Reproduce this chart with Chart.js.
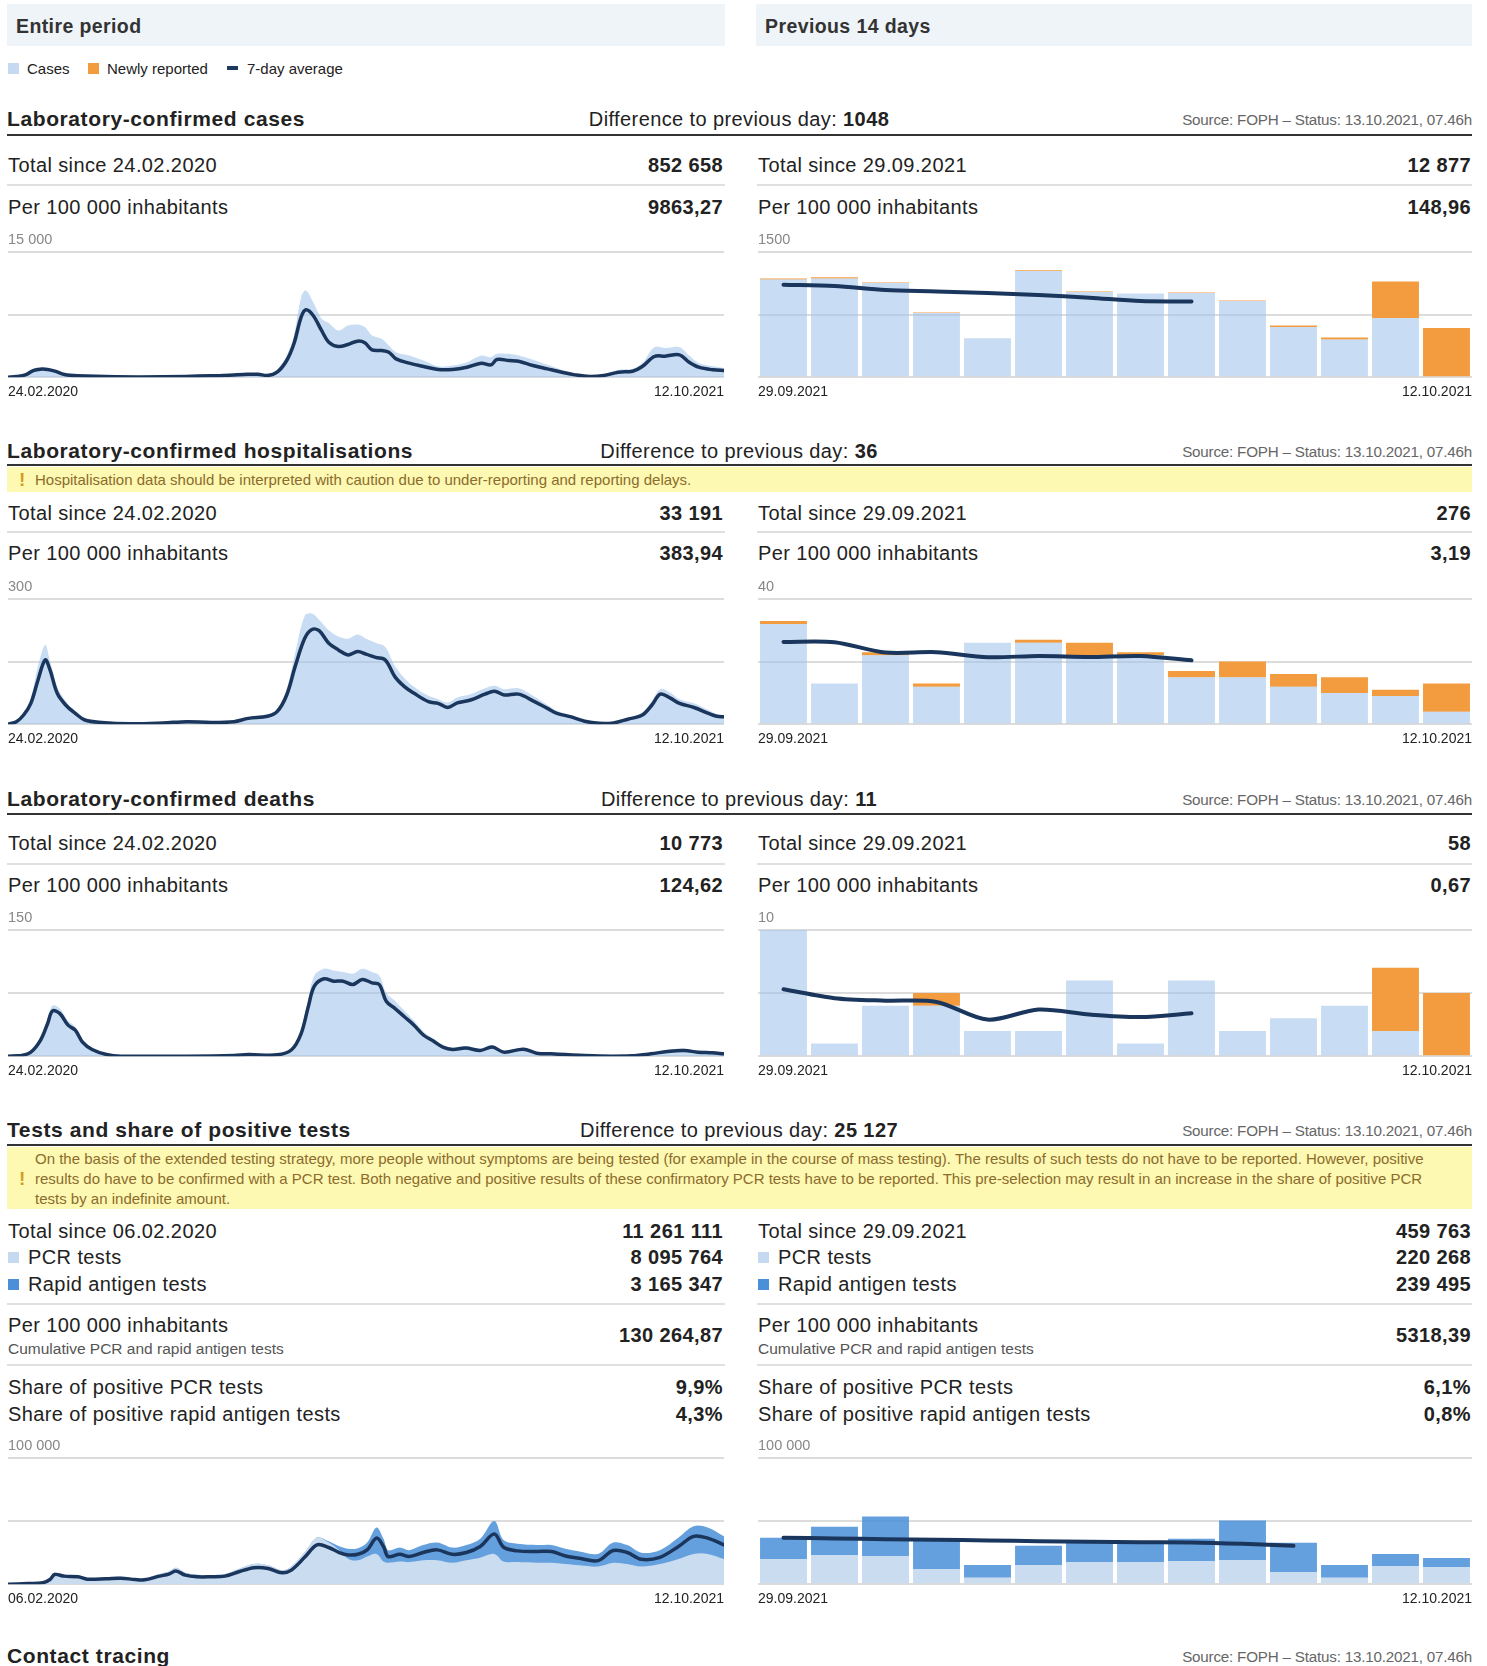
<!DOCTYPE html>
<html>
<head>
<meta charset="utf-8">
<script src="https://cdn.jsdelivr.net/npm/chart.js@4.4.0/dist/chart.umd.min.js"></script>
<style>
  body { margin: 0; background: #fff; font-family: "Liberation Sans", Arial, sans-serif; color: #222; }
  #page { position: relative; width: 1487px; height: 1666px; overflow: hidden; }
  .t { position: absolute; white-space: nowrap; line-height: 1; transform: translateY(-50%); font-size: 20px; letter-spacing: 0.4px; }
  .r { text-align: right; }
  .c { transform: translate(-50%, -50%); }
  .b { font-weight: bold; }
  .h { font-weight: bold; font-size: 21px; letter-spacing: 0.6px; color: #222; }
  .src { font-size: 15.2px; color: #666; letter-spacing: -0.2px; }
  .sub { font-size: 15.5px; color: #555; letter-spacing: 0; }
  .small { font-size: 15px; letter-spacing: 0; }
  .box { position: absolute; background: #eef4f8; }
  .rule { position: absolute; height: 2px; background: #333; left: 7px; width: 1465px; }
  .sep { position: absolute; height: 2px; background: #e0e0e0; }
  .warn { position: absolute; left: 7px; width: 1465px; background: #fdf8b2; }
  .warn .txt { position: absolute; left: 28px; font-size: 15px; color: #8b6c2c; line-height: 20px; white-space: nowrap; letter-spacing: 0; }
  .warn .ex { position: absolute; left: 12px; font-size: 19px; font-weight: bold; color: #d39c1e; }
  .sq { position: absolute; width: 11px; height: 11px; }
  .cw { position: absolute; }
</style>
</head>
<body>
<div id="page">
  <div class="box" style="left:7px;top:4px;width:718px;height:42px"></div>
  <div class="box" style="left:756px;top:4px;width:716px;height:42px"></div>
  <div class="t b" style="left:16px;top:27px;font-size:19.5px;color:#333">Entire period</div>
  <div class="t b" style="left:765px;top:27px;font-size:19.5px;color:#333">Previous 14 days</div>

  <div class="sq" style="left:8px;top:63px;background:#c5daf0"></div>
  <div class="t small" style="left:27px;top:68px">Cases</div>
  <div class="sq" style="left:88px;top:63px;background:#f39b3f"></div>
  <div class="t small" style="left:107px;top:68px">Newly reported</div>
  <div class="sq" style="left:227px;top:66px;width:11px;height:4px;background:#1d3a5f"></div>
  <div class="t small" style="left:247px;top:68px">7-day average</div>

  <!-- cases -->
  <div class="t h" style="left:7px;top:118px">Laboratory-confirmed cases</div>
  <div class="t c" style="left:739px;top:119px">Difference to previous day: <b>1048</b></div>
  <div class="t src r" style="right:15px;top:120px">Source: FOPH – Status: 13.10.2021, 07.46h</div>
  <div class="rule" style="top:134px"></div>
  <div class="t" style="left:8px;top:165px">Total since 24.02.2020</div>
  <div class="t b r" style="right:764px;top:165px">852 658</div>
  <div class="t" style="left:758px;top:165px">Total since 29.09.2021</div>
  <div class="t b r" style="right:16px;top:165px">12 877</div>
  <div class="sep" style="left:7px;width:718px;top:184px"></div>
  <div class="sep" style="left:757px;width:715px;top:184px"></div>
  <div class="t" style="left:8px;top:207px">Per 100 000 inhabitants</div>
  <div class="t b r" style="right:764px;top:207px">9863,27</div>
  <div class="t" style="left:758px;top:207px">Per 100 000 inhabitants</div>
  <div class="t b r" style="right:16px;top:207px">148,96</div>
  <div class="cw" style="left:8px;top:228px;width:716px;height:173px"><canvas id="casesAll"></canvas></div>
  <div class="cw" style="left:758px;top:228px;width:714px;height:173px"><canvas id="cases14"></canvas></div>

  <!-- hospitalisations -->
  <div class="t h" style="left:7px;top:450px">Laboratory-confirmed hospitalisations</div>
  <div class="t c" style="left:739px;top:451px">Difference to previous day: <b>36</b></div>
  <div class="t src r" style="right:15px;top:452px">Source: FOPH – Status: 13.10.2021, 07.46h</div>
  <div class="rule" style="top:464px"></div>
  <div class="warn" style="top:467px;height:25px">
    <div class="ex" style="top:2px">!</div>
    <div class="txt" style="top:3px">Hospitalisation data should be interpreted with caution due to under-reporting and reporting delays.</div>
  </div>
  <div class="t" style="left:8px;top:513px">Total since 24.02.2020</div>
  <div class="t b r" style="right:764px;top:513px">33 191</div>
  <div class="t" style="left:758px;top:513px">Total since 29.09.2021</div>
  <div class="t b r" style="right:16px;top:513px">276</div>
  <div class="sep" style="left:7px;width:718px;top:531px"></div>
  <div class="sep" style="left:757px;width:715px;top:531px"></div>
  <div class="t" style="left:8px;top:553px">Per 100 000 inhabitants</div>
  <div class="t b r" style="right:764px;top:553px">383,94</div>
  <div class="t" style="left:758px;top:553px">Per 100 000 inhabitants</div>
  <div class="t b r" style="right:16px;top:553px">3,19</div>
  <div class="cw" style="left:8px;top:575px;width:716px;height:173px"><canvas id="hospAll"></canvas></div>
  <div class="cw" style="left:758px;top:575px;width:714px;height:173px"><canvas id="hosp14"></canvas></div>

  <!-- deaths -->
  <div class="t h" style="left:7px;top:798px">Laboratory-confirmed deaths</div>
  <div class="t c" style="left:739px;top:799px">Difference to previous day: <b>11</b></div>
  <div class="t src r" style="right:15px;top:800px">Source: FOPH – Status: 13.10.2021, 07.46h</div>
  <div class="rule" style="top:813px"></div>
  <div class="t" style="left:8px;top:843px">Total since 24.02.2020</div>
  <div class="t b r" style="right:764px;top:843px">10 773</div>
  <div class="t" style="left:758px;top:843px">Total since 29.09.2021</div>
  <div class="t b r" style="right:16px;top:843px">58</div>
  <div class="sep" style="left:7px;width:718px;top:863px"></div>
  <div class="sep" style="left:757px;width:715px;top:863px"></div>
  <div class="t" style="left:8px;top:885px">Per 100 000 inhabitants</div>
  <div class="t b r" style="right:764px;top:885px">124,62</div>
  <div class="t" style="left:758px;top:885px">Per 100 000 inhabitants</div>
  <div class="t b r" style="right:16px;top:885px">0,67</div>
  <div class="cw" style="left:8px;top:906px;width:716px;height:174px"><canvas id="deathsAll"></canvas></div>
  <div class="cw" style="left:758px;top:906px;width:714px;height:174px"><canvas id="deaths14"></canvas></div>

  <!-- tests -->
  <div class="t h" style="left:7px;top:1129px">Tests and share of positive tests</div>
  <div class="t c" style="left:739px;top:1130px">Difference to previous day: <b>25 127</b></div>
  <div class="t src r" style="right:15px;top:1131px">Source: FOPH – Status: 13.10.2021, 07.46h</div>
  <div class="rule" style="top:1144px"></div>
  <div class="warn" style="top:1147px;height:62px">
    <div class="ex" style="top:21px">!</div>
    <div class="txt" style="top:2px">On the basis of the extended testing strategy, more people without symptoms are being tested (for example in the course of mass testing). The results of such tests do not have to be reported. However, positive<br>results do have to be confirmed with a PCR test. Both negative and positive results of these confirmatory PCR tests have to be reported. This pre-selection may result in an increase in the share of positive PCR<br>tests by an indefinite amount.</div>
  </div>
  <div class="t" style="left:8px;top:1231px">Total since 06.02.2020</div>
  <div class="t b r" style="right:764px;top:1231px">11 261 111</div>
  <div class="t" style="left:758px;top:1231px">Total since 29.09.2021</div>
  <div class="t b r" style="right:16px;top:1231px">459 763</div>
  <div class="sq" style="left:8px;top:1252px;background:#c5daf0"></div>
  <div class="t" style="left:28px;top:1257px">PCR tests</div>
  <div class="t b r" style="right:764px;top:1257px">8 095 764</div>
  <div class="sq" style="left:758px;top:1252px;background:#c5daf0"></div>
  <div class="t" style="left:778px;top:1257px">PCR tests</div>
  <div class="t b r" style="right:16px;top:1257px">220 268</div>
  <div class="sq" style="left:8px;top:1279px;background:#4a8fd8"></div>
  <div class="t" style="left:28px;top:1284px">Rapid antigen tests</div>
  <div class="t b r" style="right:764px;top:1284px">3 165 347</div>
  <div class="sq" style="left:758px;top:1279px;background:#4a8fd8"></div>
  <div class="t" style="left:778px;top:1284px">Rapid antigen tests</div>
  <div class="t b r" style="right:16px;top:1284px">239 495</div>
  <div class="sep" style="left:7px;width:718px;top:1303px"></div>
  <div class="sep" style="left:757px;width:715px;top:1303px"></div>
  <div class="t" style="left:8px;top:1325px">Per 100 000 inhabitants</div>
  <div class="t sub" style="left:8px;top:1349px">Cumulative PCR and rapid antigen tests</div>
  <div class="t b r" style="right:764px;top:1335px">130 264,87</div>
  <div class="t" style="left:758px;top:1325px">Per 100 000 inhabitants</div>
  <div class="t sub" style="left:758px;top:1349px">Cumulative PCR and rapid antigen tests</div>
  <div class="t b r" style="right:16px;top:1335px">5318,39</div>
  <div class="sep" style="left:7px;width:718px;top:1364px"></div>
  <div class="sep" style="left:757px;width:715px;top:1364px"></div>
  <div class="t" style="left:8px;top:1387px">Share of positive PCR tests</div>
  <div class="t b r" style="right:764px;top:1387px">9,9%</div>
  <div class="t" style="left:758px;top:1387px">Share of positive PCR tests</div>
  <div class="t b r" style="right:16px;top:1387px">6,1%</div>
  <div class="t" style="left:8px;top:1414px">Share of positive rapid antigen tests</div>
  <div class="t b r" style="right:764px;top:1414px">4,3%</div>
  <div class="t" style="left:758px;top:1414px">Share of positive rapid antigen tests</div>
  <div class="t b r" style="right:16px;top:1414px">0,8%</div>
  <div class="cw" style="left:8px;top:1434px;width:716px;height:174px"><canvas id="testsAll"></canvas></div>
  <div class="cw" style="left:758px;top:1434px;width:714px;height:174px"><canvas id="tests14"></canvas></div>

  <div class="t h" style="left:7px;top:1655px">Contact tracing</div>
  <div class="t src r" style="right:15px;top:1657px">Source: FOPH – Status: 13.10.2021, 07.46h</div>
</div>

<script>
// ---- entire period: day index since first date ----
var casesDays = [0,7,15,21,27,33,39,47,58,90,129,169,196,208,216,224,232,238,244,248,254,261,267,275,283,291,297,303,311,317,323,334,346,358,370,382,394,402,407,417,425,437,449,461,472,484,496,508,520,528,538,547,559,567,575,587,596];
var casesAvg = [0,80,320,800,960,920,720,320,160,40,40,160,320,360,200,600,2000,4000,7200,8080,7400,5600,4200,3680,3920,4320,4120,3280,3200,3000,2200,1680,1280,920,920,1200,1680,1480,2120,2000,1920,1400,1000,600,280,80,200,600,720,1280,2480,2520,2680,1800,1200,880,800];
var casesDaily = [0,150,400,1000,1200,1100,850,400,200,80,100,250,450,450,350,900,2600,5000,9600,10400,9000,7000,6500,5600,6200,6300,6000,5000,4600,3800,3000,2600,2000,1300,1400,1800,2600,2400,2800,2800,2600,2100,1500,900,450,200,350,850,1000,1700,3600,3500,3600,2600,1700,1300,1100];

var hospDays = [0,7,13,19,25,31,35,41,48,56,64,78,102,129,149,169,188,200,216,224,232,239,247,253,259,267,275,283,291,298,306,314,322,330,338,350,358,366,374,385,397,405,413,425,437,449,457,468,480,492,504,516,528,536,543,551,559,571,583,590,596];
var hospAvg = [0,6,22,50,106,154,130,74,46,26,10,4,1,3,6,4,6,14,19,30,70,138,206,227,224,194,178,166,174,168,160,154,114,90,74,54,50,40,51,58,72,79,70,72,56,38,26,18,7,2,3,12,22,46,72,63,50,40,26,19,18];
var hospDaily = [0,8,26,62,140,190,150,90,55,30,12,6,2,5,8,6,8,17,24,36,85,170,260,265,250,225,210,205,215,205,195,185,140,110,90,68,60,52,64,72,86,92,84,86,68,46,32,22,10,4,5,15,28,56,84,76,60,50,34,24,22];

var deathsDays = [0,11,19,27,33,37,43,50,56,62,70,82,94,149,188,200,224,236,244,250,255,263,271,279,287,295,303,309,315,322,330,338,346,354,362,370,381,393,403,413,429,440,452,464,480,503,519,535,551,563,574,586,596];
var deathsAvg = [0,0.8,4.8,18.8,38.9,53.7,50.9,36.9,30.9,16.8,8,2,0,0,0.8,2,1.6,7.6,26.9,59,83.2,92,89.2,89.2,85.2,91.2,87.2,85.2,65,56.9,46.9,36.9,24.9,18,10.8,8,9.6,6.8,10.8,4.8,8.4,3.6,2.8,2,0.8,0,0.4,2.8,6,6.8,4.8,4,2.8];
var deathsDaily = [0,1.5,6,22,44,60,57,42,35,20,10,3,0.5,0.8,1.5,3,2.5,9,32,68,96,104,102,100,98,104,100,96,75,66,54,42,29,21,13,10,12,9,13,6,10,5,4,3,1.5,0.8,1,4,8,9,7,6,4];

var testsDays = [0,17,30,36,40,48,60,68,84,97,109,117,130,138,144,152,162,174,186,198,211,223,235,243,255,265,275,284,292,300,308,316,322,326,336,344,356,368,381,393,405,417,425,437,454,466,478,490,506,519,531,543,559,575,588,600,614];
var testsAvg = [0,500,1100,3700,7700,6400,5900,4000,4300,4800,3700,3500,6400,8000,10400,7200,5900,5900,6400,9900,13100,12500,9100,11200,21900,31200,29100,25100,23200,23700,27200,36500,29900,21900,23700,21900,25100,27200,23700,25100,29900,39700,29300,26400,25900,25900,22400,20500,18700,26700,25100,19700,21300,29900,37900,36500,31200];
var testsPcr = [0,800,1500,4500,9000,7500,7000,5000,5200,5800,4600,4300,8000,10000,13000,9000,7400,7200,8000,12000,16000,15000,11000,14000,26000,37000,33000,27000,20000,19000,22000,24000,18000,17000,18000,17500,19000,19000,17000,19000,21000,24000,18000,17500,17000,17000,16000,15000,14000,17000,16000,14000,16000,20000,24000,24000,20000];
var testsAllTypes = [0,800,1500,4500,9000,7500,7000,5000,5200,5800,4600,4300,8000,10000,13000,9000,7400,7200,8000,12000,16000,15000,11000,14000,26000,37000,34000,30000,28000,28500,33000,45000,36000,27000,29000,27000,31000,33000,29000,31000,36000,50000,35000,32000,31000,31000,28000,26000,24000,33000,31000,25000,27000,37000,46000,45000,38000];

// ---- previous 14 days ----
var days14 = ['29.09.2021','30.09.2021','01.10.2021','02.10.2021','03.10.2021','04.10.2021','05.10.2021','06.10.2021','07.10.2021','08.10.2021','09.10.2021','10.10.2021','11.10.2021','12.10.2021'];
var cases14 = [1172,1184,1128,768,468,1272,1020,1004,1008,912,600,452,708,0];
var casesNew14 = [12,12,8,8,0,8,8,0,8,8,20,24,440,588];
var casesAvg14 = [1108,1092,1044,1028,1008,984,952,912,908];
var hosp14 = [32,13,22,12,26,26,22,22,15,15,12,10,9,4];
var hospNew14 = [1,0,1,1,0,1,4,1,2,5,4,5,2,9];
var hospAvg14 = [26.3,26.2,22.9,23.0,21.4,21.8,21.5,21.8,20.4];
var deaths14 = [10,1,4,4,2,2,6,1,6,2,3,4,2,0];
var deathsNew14 = [0,0,0,1,0,0,0,0,0,0,0,0,5,5];
var deathsAvg14 = [5.3,4.6,4.4,4.3,2.9,3.7,3.3,3.1,3.4];
var pcr14 = [20000,23200,22400,12000,5100,15200,17600,17600,18400,19200,9600,5100,14400,13600];
var rapid14 = [16800,22400,31200,22700,10100,15200,16300,15500,17600,31200,23200,10100,9600,7200];
var testsAvg14 = [36800,36300,35700,35200,34700,34100,33600,33300,33100,32000,30400];

// ---- axis labels ----
var casesRange = ['24.02.2020','12.10.2021'];
var testsRange = ['06.02.2020','12.10.2021'];
var range14 = ['29.09.2021','12.10.2021'];
var yMaxAll = [15000, 300, 150, 100000];
var yLabelAll = ['15 000', '300', '150', '100 000'];
var yMax14 = [1500, 40, 10, 100000];
var yLabel14 = ['1500', '40', '10', '100 000'];

var LIGHT = 'rgba(160,196,234,0.58)';
var ORANGE = '#f39b3f';
var NAVY = '#1b365c';
var DARK = 'rgba(74,143,216,0.85)';
var FONT = '"Liberation Sans", Arial, sans-serif';

Chart.defaults.font.family = FONT;
Chart.defaults.animation = false;

function yAxis(max, label, stacked) {
    return {
        min: 0, max: max, stacked: !!stacked,
        border: {display: false},
        grid: {color: '#dcdcdc', lineWidth: 2, drawTicks: false},
        ticks: {
            stepSize: max / 2, mirror: true, padding: 0, labelOffset: -12,
            color: '#888', font: {size: 14.5},
            callback: function(v) { return v === max ? label : ''; }
        }
    };
}

// padding 0 keeps the chart area flush; tickLength gives the gap under the baseline
function dateAxis(min, max, labels) {
    return {
        type: 'linear', min: min, max: max, position: 'bottom', offset: false,
        grid: {display: false, drawTicks: true, tickLength: 7},
        border: {display: false},
        afterBuildTicks: function(scale) { scale.ticks = [{value: min}, {value: max}]; },
        ticks: {
            align: 'inner', maxRotation: 0, autoSkip: false, padding: 0,
            color: '#222', font: {size: 14},
            callback: function(v, i) { return labels[i]; }
        }
    };
}

function pts(days, vals) {
    return days.map(function(d, i) { return {x: d, y: vals[i]}; });
}

function area(label, days, vals, color) {
    return {label: label, data: pts(days, vals), fill: 'origin', backgroundColor: color,
        borderWidth: 0, pointRadius: 0, tension: 0.35};
}

function avgLine(days, vals) {
    return {label: '7-day average', data: pts(days, vals), fill: false, borderColor: NAVY,
        borderWidth: 3.5, pointRadius: 0, tension: 0.35, borderCapStyle: 'round'};
}

function longChart(id, datasets, lastDay, max, label, range) {
    new Chart(document.getElementById(id), {
        type: 'line',
        data: {datasets: datasets},
        options: {
            responsive: true, maintainAspectRatio: false,
            layout: {padding: {top: 24}},
            plugins: {legend: {display: false}, tooltip: {enabled: false}},
            scales: {x: dateAxis(0, lastDay, range), y: yAxis(max, label)}
        }
    });
}

function shortChart(id, lower, upper, lowColor, upColor, avg, max, label) {
    new Chart(document.getElementById(id), {
        type: 'bar',
        data: {
            labels: days14,
            datasets: [
                {type: 'line', label: '7-day average', data: avg, borderColor: NAVY, borderWidth: 4,
                    pointRadius: 0, tension: 0.3, fill: false, order: 0, stack: 'avg', borderCapStyle: 'round'},
                {label: 'lower', data: lower, backgroundColor: lowColor, stack: 's', order: 1,
                    barPercentage: 1, categoryPercentage: 0.92},
                {label: 'upper', data: upper, backgroundColor: upColor, stack: 's', order: 2,
                    barPercentage: 1, categoryPercentage: 0.92}
            ]
        },
        options: {
            responsive: true, maintainAspectRatio: false,
            layout: {padding: {top: 24}},
            plugins: {legend: {display: false}, tooltip: {enabled: false}},
            scales: {
                x: {type: 'category', display: false, offset: true, stacked: true},
                xd: dateAxis(0, 1, range14),
                y: yAxis(max, label, true)
            }
        }
    });
}

window.onload = function() {
    longChart('casesAll', [avgLine(casesDays, casesAvg), area('Cases', casesDays, casesDaily, LIGHT)],
        596, yMaxAll[0], yLabelAll[0], casesRange);
    longChart('hospAll', [avgLine(hospDays, hospAvg), area('Cases', hospDays, hospDaily, LIGHT)],
        596, yMaxAll[1], yLabelAll[1], casesRange);
    longChart('deathsAll', [avgLine(deathsDays, deathsAvg), area('Cases', deathsDays, deathsDaily, LIGHT)],
        596, yMaxAll[2], yLabelAll[2], casesRange);
    longChart('testsAll', [avgLine(testsDays, testsAvg), area('PCR tests', testsDays, testsPcr, '#cadcf0'),
        area('Rapid antigen tests', testsDays, testsAllTypes, DARK)],
        614, yMaxAll[3], yLabelAll[3], testsRange);

    shortChart('cases14', cases14, casesNew14, LIGHT, ORANGE, casesAvg14, yMax14[0], yLabel14[0]);
    shortChart('hosp14', hosp14, hospNew14, LIGHT, ORANGE, hospAvg14, yMax14[1], yLabel14[1]);
    shortChart('deaths14', deaths14, deathsNew14, LIGHT, ORANGE, deathsAvg14, yMax14[2], yLabel14[2]);
    shortChart('tests14', pcr14, rapid14, '#cadcf0', DARK, testsAvg14, yMax14[3], yLabel14[3]);
};
</script>
</body>
</html>
